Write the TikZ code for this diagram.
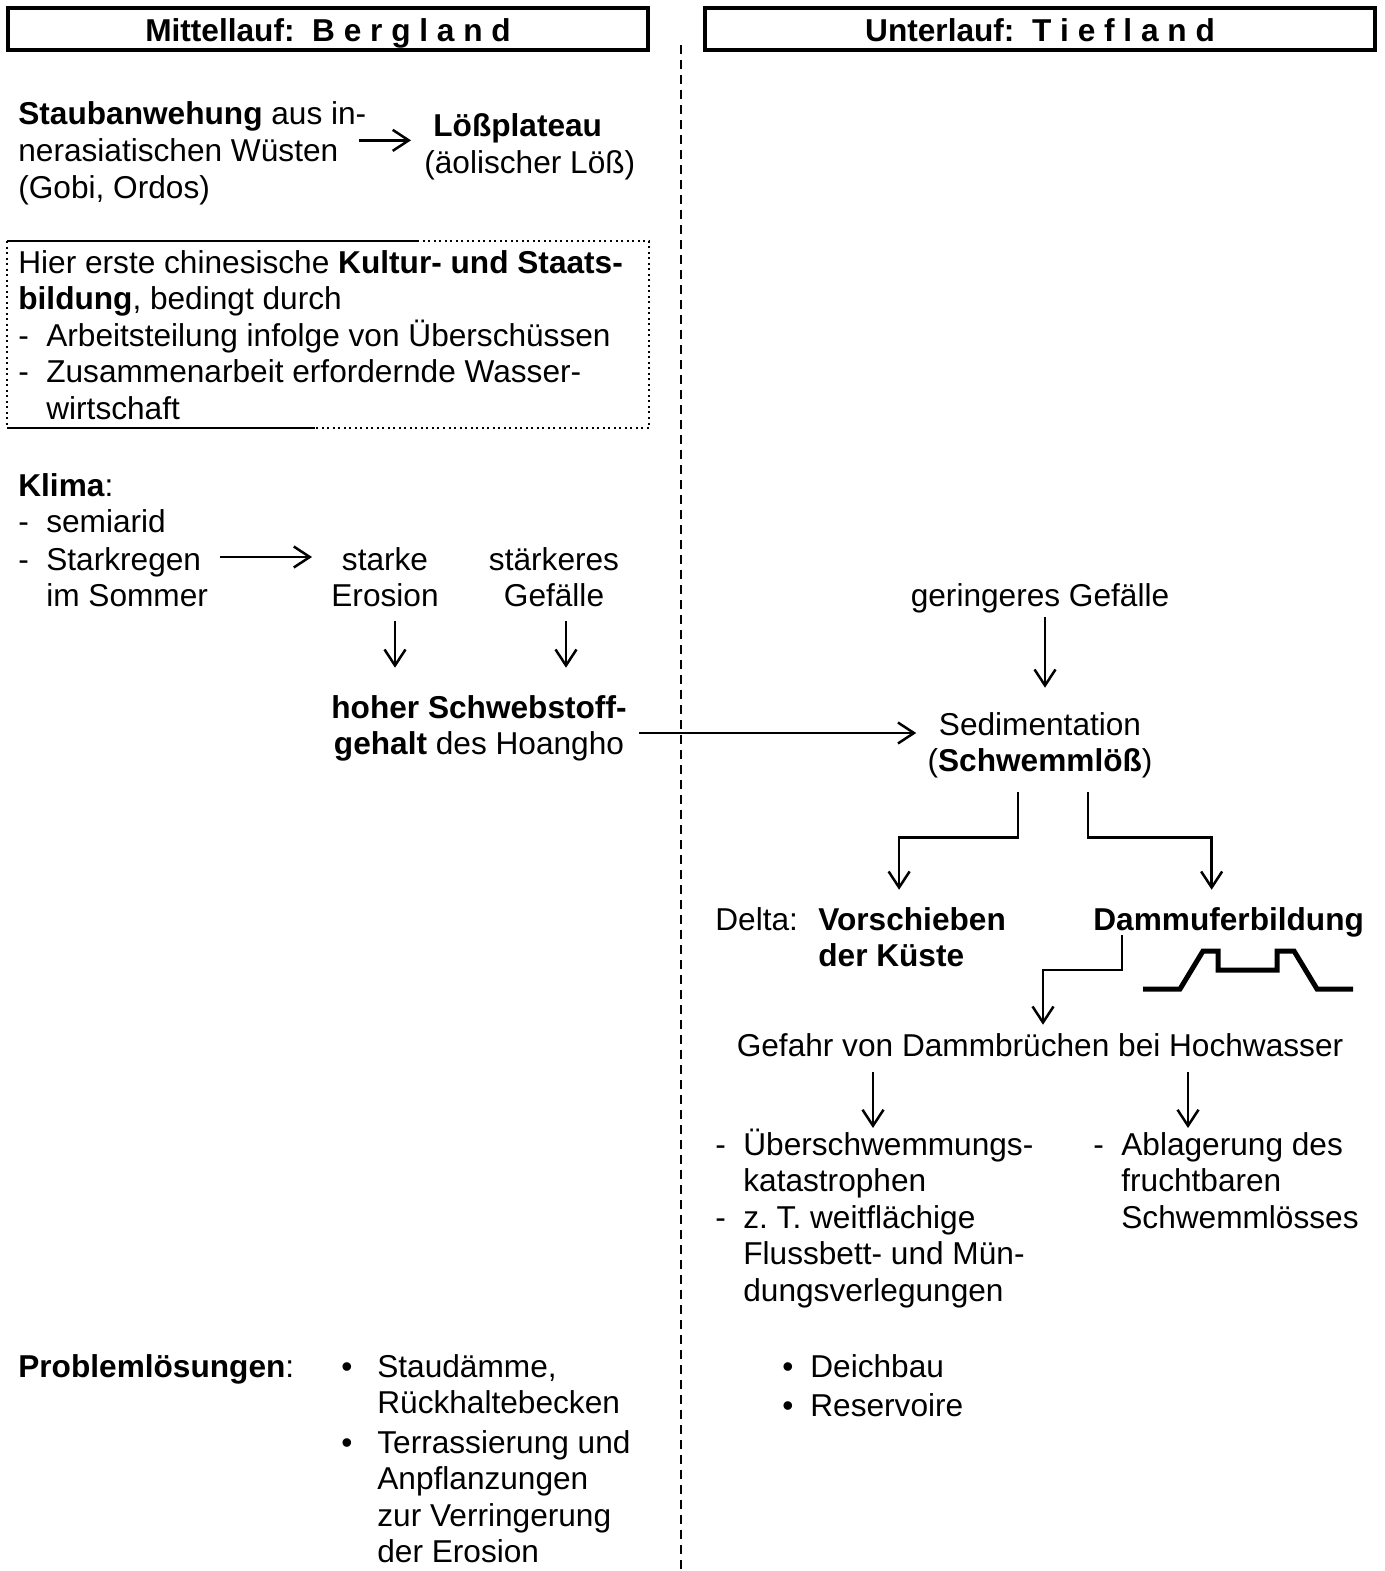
\documentclass[tikz,border=0pt]{standalone}
\usepackage{fontspec}
\setmainfont{Liberation Sans}
\usetikzlibrary{arrows.meta}
\newcommand{\strich}{\makebox[0.56cm][l]{-}}
\newcommand{\einzug}{\hspace*{0.56cm}}
\newcommand{\links}[1]{\vtop{\let\\\cr\halign{##\hfil\cr#1\crcr}}}
\newcommand{\mitte}[1]{\vtop{\let\\\cr\halign{\hfil##\hfil\cr#1\crcr}}}

\begin{document}
\begin{tikzpicture}[x=0.02cm, y=-0.02cm]
            \tikzset{txt/.style={anchor=base west, inner sep=0pt, font=\fontsize{18}{20.8}\selectfont}}
            \tikzset{ctxt/.style={txt, anchor=base}}
            \tikzset{flow/.style={-{Straight Barb[length=0.32cm, width=0.42cm]}, line width=0.05cm}}
            \tikzset{titlebox/.style={draw, line width=0.08cm, minimum height=0.84cm, inner sep=0pt, text height=14.5pt, text depth=0pt, font=\fontsize{18}{20.8}\selectfont\bfseries}}
            \useasboundingbox (0,0) rectangle (1385,1571);
            \draw[line width=0.7pt, dash pattern=on 0.19cm off 0.11cm] (681,45) -- (681,1571);
            \node[titlebox, minimum width=12.8cm] (berg) at (328,29) {Mittellauf:\ \ B e r g l a n d};
            \node[titlebox, minimum width=13.4cm] (tief) at (1040,29) {Unterlauf:\ \ T i e f l a n d};
            \node[txt] (staub) at (18,125) {\links{\textbf{Staubanwehung} aus in-\\nerasiatischen Wüsten\\(Gobi, Ordos)}};
            \node[txt] (loess) at (424,137) {\links{\hspace*{0.18cm}\textbf{Lößplateau}\\(äolischer Löß)}};
            \draw[flow, shorten >=0.1cm] ([shift={(-8,-13)}]staub.east) -- ([shift={(-8,-13)}]staub.east -| loess.west);
            \begin{scope}
                \draw[dotted, line width=0.04cm] (7,241) rectangle (649,428);
                \draw[line width=0.04cm] (7,241) -- (417,241);
                \draw[line width=0.04cm] (7,428) -- (315,428);
            \end{scope}
            \node[txt] (kultur) at (18,273) {\links{Hier erste chinesische \textbf{Kultur- und Staats-}\\\textbf{bildung}, bedingt durch\\\strich Arbeitsteilung infolge von Überschüssen\\\strich Zusammenarbeit erfordernde Wasser-\\\einzug wirtschaft}};
            \node[txt] (klima) at (18,496) {\links{\textbf{Klima}:\\\strich semiarid}};
            \node[txt] (regen) at (18,570) {\links{\strich Starkregen\\\einzug im Sommer}};
            \node[ctxt] (erosion) at (385,570) {\mitte{starke\\Erosion}};
            \node[ctxt] (gefaelle) at (554,570) {\mitte{stärkeres\\Gefälle}};
            \draw[flow] ([shift={(12,-13)}]regen.base east) -- ([shift={(-19,-13)}]erosion.base west);
            \node[ctxt] (hoch) at (479,718) {\mitte{\textbf{hoher Schwebstoff-}\\\textbf{gehalt} des Hoangho}};
            \foreach \n/\dx in {erosion/0.2cm, gefaelle/0.24cm} {
                \draw[flow, shorten >=0.54cm] ([xshift=\dx, yshift=-0.28cm]\n.south) -- ([xshift=\dx]\n.south |- hoch.north);
            }
            \node[ctxt] (gering) at (1040,606) {geringeres Gefälle};
            \node[ctxt] (sed) at (1040,735) {\mitte{Sedimentation\\(\textbf{Schwemmlöß})}};
            \draw[flow, shorten >=0.48cm] ([xshift=0.1cm, yshift=-0.08cm]gering.south) -- ([xshift=0.1cm]gering.south |- sed.north);
            \draw[flow, shorten >=0.46cm] ([shift={(12,15)}]hoch.base east) -- ([shift={(12,15)}]hoch.base east -| sed.west);
            \node[txt] (delta) at (715,930) {Delta:};
            \node[txt] (vor) at (818,930) {\links{\textbf{Vorschieben}\\\textbf{der Küste}}};
            \node[txt] (damm) at (1093,930) {\textbf{Dammuferbildung}};
            \draw[flow, shorten >=0.34cm] ([shift={(-22,14)}]sed.south) -- ++(0,45) -| ([xshift=-0.26cm]vor.north);
            \draw[flow, shorten >=0.34cm] ([shift={(48,14)}]sed.south) -- ++(0,45) -| ([xshift=-0.34cm]damm.north);
            \draw[line width=0.1cm] (1143,989) -- (1180,989) -- (1203,951) -- (1218,951) -- (1218,970) -- (1277,970) -- (1277,951) -- (1294,951) -- (1317,989) -- (1353,989);
            \node[ctxt] (gefahr) at (1040,1056) {Gefahr von Dammbrüchen bei Hochwasser};
            \draw[flow, shorten >=0.16cm] ([shift={(29,5)}]damm.base west) -- ++(0,35) -| ([xshift=0.06cm]gefahr.north);
            \foreach \dx in {-167, 148} {
                \draw[flow] ([shift={(\dx,16)}]gefahr.base) -- ([shift={(\dx,72)}]gefahr.base);
            }
            \node[txt] (folgen) at (715,1155) {\links{\strich Überschwemmungs-\\\einzug katastrophen\\\strich z.\ T. weitflächige\\\einzug Flussbett- und Mün-\\\einzug dungsverlegungen}};
            \node[txt] (ablag) at (1093,1155) {\links{\strich Ablagerung des\\\einzug fruchtbaren\\\einzug Schwemmlösses}};
            \node[txt] (probl) at (18,1377) {\textbf{Problemlösungen}:};
            \node[txt] (punktA) at (341,1377) {•};
            \node[txt] (staud) at (377,1377) {\links{Staudämme,\\Rückhaltebecken}};
            \node[txt] (punktB) at (341,1453) {•};
            \node[txt] (terr) at (377,1453) {\links{Terrassierung und\\Anpflanzungen\\zur Verringerung\\der Erosion}};
            \node[txt] (punktC) at (782,1377) {•};
            \node[txt] (deich) at (810,1377) {Deichbau};
            \node[txt] (punktD) at (782,1416) {•};
            \node[txt] (reserv) at (810,1416) {Reservoire};
\end{tikzpicture}
\end{document}
